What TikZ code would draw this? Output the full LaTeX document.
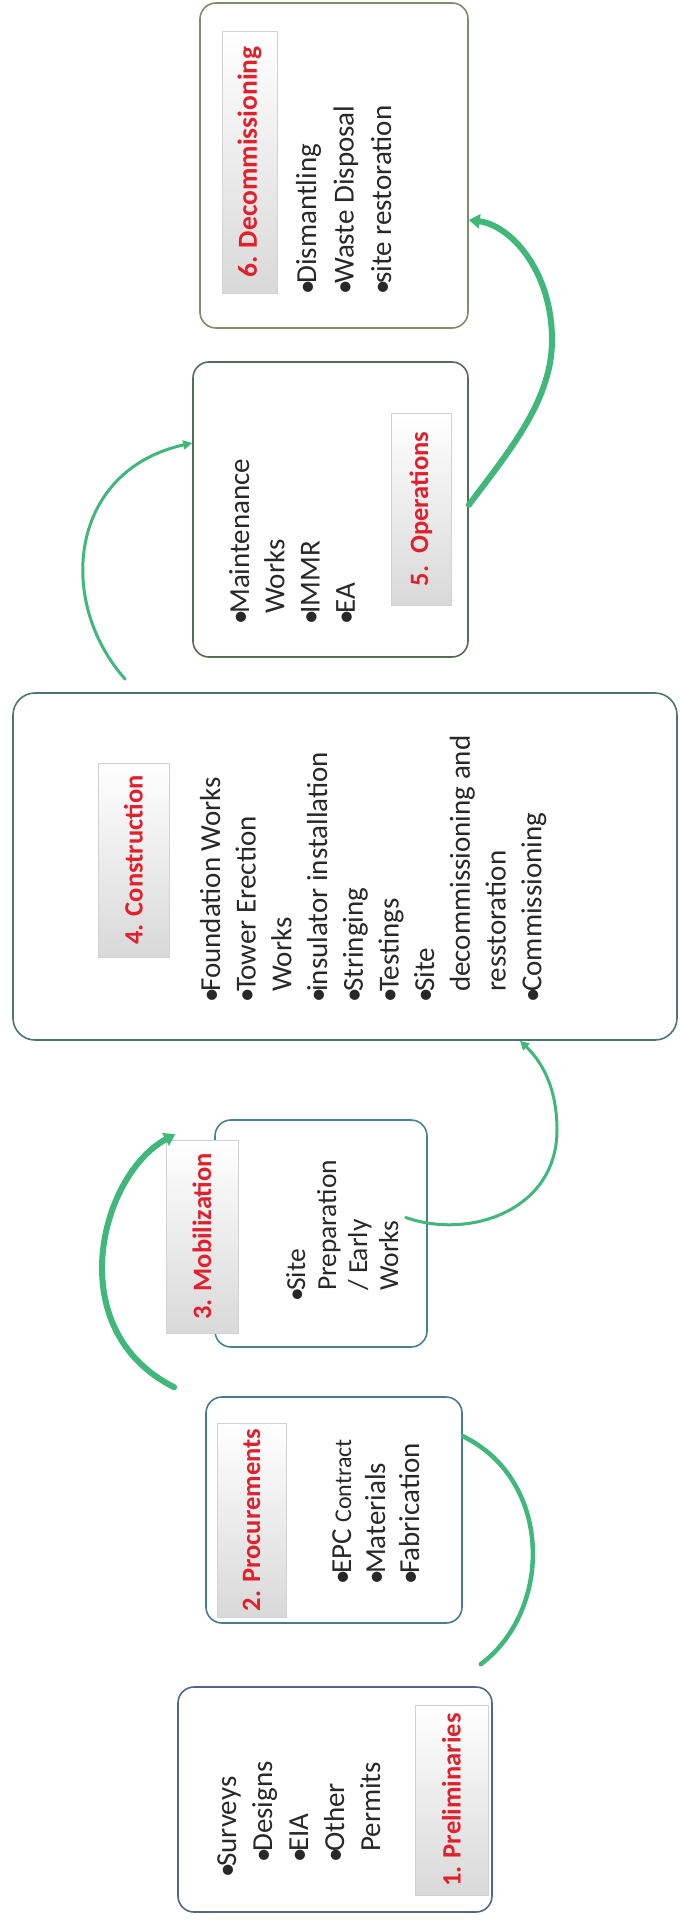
\documentclass[tikz,border=0pt]{standalone}
\usepackage{fontspec}
\setmainfont{Carlito}
\usetikzlibrary{arrows.meta,calc}
\definecolor{grn}{RGB}{64,184,124}
\definecolor{titred}{RGB}{226,32,44}
\definecolor{txt}{RGB}{40,40,40}
\definecolor{bc1}{RGB}{82,102,140}
\definecolor{bc2}{RGB}{72,122,146}
\definecolor{bc3}{RGB}{70,132,142}
\definecolor{bc4}{RGB}{74,118,108}
\definecolor{bc5}{RGB}{84,110,84}
\definecolor{bc6}{RGB}{126,142,104}
\newcommand{\bu}{\makebox[11pt][l]{\textbullet}}
\newcommand{\ind}{\hspace*{11pt}}
\begin{document}
\begin{tikzpicture}[x=1pt,y=-1pt]
\tikzset{
  box/.style={draw, rounded corners=16pt, line width=1.6pt, fill=white, inner sep=0pt},
  tab/.style={rotate=90, inner sep=0pt, top color=white, bottom color=gray!30, draw=gray!35, line width=0.8pt, font=\bfseries\fontsize{26.5}{30}\selectfont, text=titred},
  blist/.style={rotate=90, anchor=base west, inner sep=0pt, text=txt},
  conn/.style={draw=grn, line cap=round},
  thin/.style={conn, line width=3pt, -{Triangle[length=9pt,width=9pt]}},
  thick/.style={conn, line width=6pt, -{Triangle[length=11pt,width=14pt]}}
}
\useasboundingbox (0,0) rectangle (680,1924);
\fill[white] (0,0) rectangle (680,1924);

% boxes
\node[box, draw=bc1, minimum width=314pt, minimum height=225pt] (b1) at (335,1799.5) {};
\node[box, draw=bc2, minimum width=256pt, minimum height=226pt] (b2) at (334,1510) {};
\node[box, draw=bc3, minimum width=212pt, minimum height=227pt] (b3) at (321,1233.5) {};
\node[box, draw=bc4, rounded corners=22pt, minimum width=664pt, minimum height=347pt] (b4) at (345,866.5) {};
\node[box, draw=bc5, minimum width=275pt, minimum height=295pt] (b5) at (330.5,509.5) {};
\node[box, draw=bc6, minimum width=268pt, minimum height=325pt] (b6) at (334,165.5) {};

% title tabs
\node[tab, minimum width=190pt, minimum height=73pt] (t1) at (451.5,1800) {1. Preliminaries};
\node[tab, minimum width=194pt, minimum height=69pt] (t2) at (251.5,1520) {2. Procurements};
\node[tab, minimum width=193pt, minimum height=72pt] (t3) at (202,1236.5) {3. Mobilization};
\node[tab, minimum width=194pt, minimum height=71pt] (t4) at (133.5,860) {4. Construction};
\node[tab, minimum width=192pt, minimum height=60pt] (t5) at (421,509) {5.\ \ Operations};
\node[tab, minimum width=262pt, minimum height=55pt, font=\bfseries\fontsize{27.5}{30}\selectfont] (t6) at (249.5,162) {6. Decommissioning};

% bullet lists
\node[blist, font=\fontsize{29}{36}\selectfont] (l1) at (236,1863)
  {\begin{tabular}[t]{@{}l@{}}\hspace*{-15pt}\bu Surveys\\ \bu Designs\\ \bu EIA\\ \bu Other\\ \ind Permits\end{tabular}};
\node[blist, font=\fontsize{29}{34}\selectfont] (l2) at (351,1585)
  {\begin{tabular}[t]{@{}l@{}}\bu EPC {\fontsize{24}{34}\selectfont Contract}\\ \bu Materials\\ \bu Fabrication\end{tabular}};
\node[blist, font=\fontsize{27.5}{31}\selectfont] (l3) at (305,1302)
  {\begin{tabular}[t]{@{}l@{}}\bu Site\\ \ind Preparation\\ \ind / Early\\ \ind Works\end{tabular}};
\node[blist, font=\fontsize{29}{35.7}\selectfont] (l4) at (220,1003)
  {\begin{tabular}[t]{@{}l@{}}\bu Foundation Works\\ \bu Tower Erection\\ \ind Works\\ \bu insulator installation\\ \bu Stringing\\ \bu Testings\\ \bu Site\\ \ind decommissioning and\\ \ind resstoration\\ \bu Commissioning\end{tabular}};
\node[blist, font=\fontsize{29}{35.3}\selectfont] (l5) at (249,625)
  {\begin{tabular}[t]{@{}l@{}}\bu Maintenance\\ \ind Works\\ \bu IMMR\\ \bu EA\end{tabular}};
\node[blist, font=\fontsize{29}{37.5}\selectfont] (l6) at (316,295)
  {\begin{tabular}[t]{@{}l@{}}\bu Dismantling\\ \bu Waste Disposal\\ \bu site restoration\end{tabular}};

% connectors
\draw[conn, line width=4.5pt] ($(b1.north east)+(-12,-22)$) .. controls (553,1610) and (553,1480) .. ($(b2.north east)+(0,40)$);
\draw[thick] ($(b2.north west)+(-31,-9)$) .. controls (60,1330) and (100,1175) .. ($(b3.north west)+(-39,15)$);
\draw[thin] ($(b3.east)+(-22,-16)$) .. controls (470,1240) and (557,1210) .. (557,1130)
  .. controls (557,1085) and (540,1060) .. ($(b4.south)+(175,0)$);
\draw[thin] ($(b4.north west)+(113,-13)$) .. controls (55,600) and (70,470) .. ($(b5.west)+(0,-66.5)$);
\draw[thick] ($(b5.east)+(0,-4.5)$) .. controls (510,450) and (552,400) .. (552,340)
  .. controls (552,270) and (510,225) .. ($(b6.east)+(0,54.5)$);
\end{tikzpicture}
\end{document}
